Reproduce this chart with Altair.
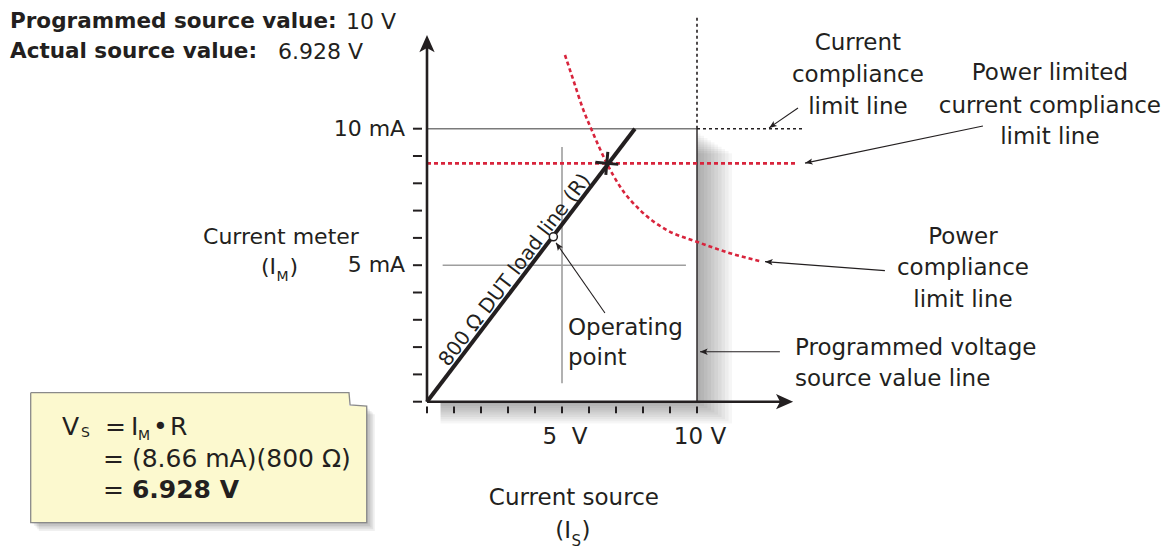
import math
import altair as alt
import pandas as pd

FONT = "DejaVu Sans"
INK = "#231f20"
RED = "#d8243c"

# ---- canvas / scale geometry ----
W, H = 1157, 541
PXV, PXI = 27.0, 27.3          # pixels per volt, pixels per mA
X0 = -419 / PXV
X1 = X0 + W / PXV
Y1 = 393.7 / PXI
Y0 = Y1 - H / PXI
XS = alt.Scale(domain=[X0, X1], nice=False, zero=False)
YS = alt.Scale(domain=[Y0, Y1], nice=False, zero=False)

# ---- data ----
tick_v = list(range(0, 11))
tick_i = list(range(0, 11))
x_label_pos = [5, 10]
x_labels = ["5\u00a0\u00a0V", "10 V"]
y_label_pos = [5, 10]
y_labels = ["5 mA", "10 mA"]

programmed_v = 10.0
compliance_i = 10.0
limited_i = 8.73
load_v = [0.0, 7.7]
load_i = [0.0, 10.0]
power_v = [5.11, 5.42, 5.79, 6.10, 6.66, 7.15, 7.89, 8.88, 9.99, 11.22, 12.40]
power_i = [12.70, 11.78, 10.69, 9.95, 8.73, 7.88, 7.02, 6.29, 5.86, 5.44, 5.13]
op_v, op_i = 6.66, 8.73
pt_v, pt_i = 4.68, 6.04

# leader arrows: start (v, i) -> tip (v, i)
leaders = [
    (13.74, 10.76, 12.67, 10.03),
    (20.59, 10.10, 14.00, 8.74),
    (16.96, 4.80, 12.52, 5.13),
    (13.07, 1.83, 10.11, 1.83),
    (6.59, 3.25, 4.78, 5.82),
]

right_labels = [
    (15.96, 13.15, "Current"), (15.96, 11.97, "compliance"), (15.96, 10.78, "limit line"),
    (23.07, 12.05, "Power limited"), (23.07, 10.83, "current compliance"), (23.07, 9.71, "limit line"),
    (19.85, 6.03, "Power"), (19.85, 4.90, "compliance"), (19.85, 3.73, "limit line"),
]
left_labels = [
    (13.63, 1.97, "Programmed voltage"), (13.63, 0.83, "source value line"),
    (5.22, 2.70, "Operating"), (5.22, 1.60, "point"),
]

box_v = [-14.678, -2.889, -2.233]
box_i = [0.330, -0.158, -4.432]


def X(f="x"):
    return alt.X(f"{f}:Q", scale=XS, axis=None)


def Y(f="y"):
    return alt.Y(f"{f}:Q", scale=YS, axis=None)


def segs(rows, **kw):
    df = pd.DataFrame(rows, columns=["x", "y", "x2", "y2"])
    return alt.Chart(df).mark_rule(**kw).encode(x=X(), y=Y(), x2="x2:Q", y2="y2:Q")


def rects(rows, **kw):
    df = pd.DataFrame(rows, columns=["x", "x2", "y", "y2"])
    return alt.Chart(df).mark_rect(**kw).encode(x=X(), x2="x2:Q", y=Y(), y2="y2:Q")


def texts(rows, size=22, align="left", weight="normal", **kw):
    df = pd.DataFrame(rows, columns=["x", "y", "t"])
    return alt.Chart(df).mark_text(
        font=FONT, fontSize=size, align=align, baseline="middle",
        fontWeight=weight, color=INK, **kw
    ).encode(x=X(), y=Y(), text="t:N")


def points(rows, **kw):
    df = pd.DataFrame(rows, columns=["x", "y", "a"])
    return alt.Chart(df).mark_point(**kw).encode(
        x=X(), y=Y(), angle=alt.Angle("a:Q", scale=None))


layers = []

# drop shadow of the plot box
layers.append(rects([(0.5, 10 + 0.13 * k, -0.08 * k, 9.9 - 0.08 * k) for k in range(1, 11)],
                    color="#000000", opacity=0.034))
# drop shadow of the formula note
layers.append(rects([(box_v[0] + 0.06 * k, box_v[2] + 0.06 * k, box_i[2] - 0.06 * k, box_i[1] - 0.06 * k)
                     for k in range(1, 6)], color="#000000", opacity=0.06))
# white plot box
layers.append(rects([(0, programmed_v, 0, compliance_i)], color="#ffffff"))
# formula note
layers.append(rects([(box_v[0], box_v[1], box_i[2], box_i[0]),
                     (box_v[1], box_v[2], box_i[2], box_i[1])], color="#fcf9cf"))
border = pd.DataFrame({
    "x": [box_v[0], box_v[1], box_v[1] + 0.04, box_v[2], box_v[2], box_v[0], box_v[0]],
    "y": [box_i[0], box_i[0], box_i[1] + 0.04, box_i[1], box_i[2], box_i[2], box_i[0]],
    "o": list(range(7)),
})
layers.append(alt.Chart(border).mark_line(color="#8a8a8a", strokeWidth=1.3).encode(
    x=X(), y=Y(), order="o:Q"))

# gray lines
layers.append(segs([(0, compliance_i, programmed_v, compliance_i)], color="#7a7a7a", strokeWidth=1.6))
layers.append(segs([(5, 0.68, 5, 9.33), (0.58, 5, 9.59, 5)], color="#9e9e9e", strokeWidth=1.6))
# programmed voltage line
layers.append(segs([(programmed_v, 0, programmed_v, compliance_i)], color=INK, strokeWidth=1.4))
# dotted current compliance limit
layers.append(segs([(programmed_v, compliance_i, 14.0, compliance_i),
                    (programmed_v, compliance_i, programmed_v, 14.1)],
                   color=INK, strokeWidth=1.6, strokeDash=[3, 3]))
# red limits
layers.append(segs([(0, limited_i, 13.74, limited_i)], color=RED, strokeWidth=2.6, strokeDash=[4, 3]))
curve = pd.DataFrame({"x": power_v, "y": power_i, "o": list(range(len(power_v)))})
layers.append(alt.Chart(curve).mark_line(color=RED, strokeWidth=2.6, strokeDash=[4, 3],
                                         interpolate="monotone").encode(x=X(), y=Y(), order="o:Q"))
# load line
layers.append(segs([(load_v[0], load_i[0], load_v[1], load_i[1])], color=INK, strokeWidth=4))
# operating cross and open point
layers.append(points([(op_v, op_i, 5)], shape="M-1,0L1,0M0,-1L0,1", filled=False,
                     stroke=INK, strokeWidth=3, size=529, opacity=1))
layers.append(alt.Chart(pd.DataFrame({"x": [pt_v], "y": [pt_i]})).mark_point(
    shape="circle", filled=True, fill="#ffffff", stroke=INK, strokeWidth=1.5, size=64, opacity=1
).encode(x=X(), y=Y()))

# axes
layers.append(segs([(0, 0, 0, 13.0), (0, 0, 13.2, 0)], color=INK, strokeWidth=2.6))
layers.append(segs([(-0.52, t, -0.185, t) for t in tick_i], color=INK, strokeWidth=2))
layers.append(segs([(t, -0.18, t, -0.425) for t in tick_v], color=INK, strokeWidth=2))
AX_HEAD = "M0,0L0.85,1.9L0,1.45L-0.85,1.9Z"
layers.append(points([(0, 13.43, 0), (13.56, 0, 90)], shape=AX_HEAD, filled=True,
                     color=INK, size=324, opacity=1, strokeWidth=0))

# leaders
layers.append(segs([(a, b, c, d) for a, b, c, d in leaders], color=INK, strokeWidth=1.1))
heads = [(c, d, math.degrees(math.atan2((c - a) * PXV, (d - b) * PXI)) % 360)
         for a, b, c, d in leaders]
layers.append(points(heads, shape="M0,0L-0.45,1.1L0,0.85L0.45,1.1Z", filled=True,
                     color=INK, size=196, opacity=1, strokeWidth=0))

# texts
layers.append(texts([(-15.444, 13.92, "Programmed source value:"),
                     (-15.444, 12.80, "Actual source value:")], size=21.5, weight="bold"))
layers.append(texts([(-3.0, 13.92, "10 V"), (-5.52, 12.80, "6.928 V")], size=22))
layers.append(texts(right_labels, size=23, align="center"))
layers.append(texts(left_labels, size=23, align="left"))
layers.append(texts([(-0.81, p, s) for p, s in zip(y_label_pos, y_labels)], size=22, align="right"))
layers.append(texts([(p + 0.11, -1.282, s) for p, s in zip(x_label_pos, x_labels)], size=23, align="center"))
layers.append(texts([(-5.41, 6.03, "Current meter")], size=22, align="center"))
layers.append(texts([(-5.593, 4.934, "(I")], size=22, align="right"))
layers.append(texts([(-5.574, 4.568, "M")], size=14, align="left"))
layers.append(texts([(-5.093, 4.934, ")")], size=22, align="left"))
layers.append(texts([(5.44, -3.53, "Current source")], size=23, align="center"))
layers.append(texts([(5.333, -4.736, "(I")], size=23, align="right"))
layers.append(texts([(5.352, -5.103, "S")], size=15, align="left"))
layers.append(texts([(5.722, -4.736, ")")], size=23, align="left"))

load_angle = 360 - math.degrees(math.atan2((load_i[1] - load_i[0]) * PXI, (load_v[1] - load_v[0]) * PXV))
layers.append(texts([(3.26, 4.82, "800 Ω DUT load line (R)")], size=20, align="center", angle=load_angle))

# formula
layers.append(texts([(-13.519, -0.927, "V"), (-11.926, -0.927, "="), (-10.963, -0.927, "I"),
                     (-10.148, -0.927, "•"), (-9.519, -0.927, "R"),
                     (-12.0, -2.10, "= (8.66 mA)(800 Ω)"), (-12.0, -3.22, "=")], size=25))
layers.append(texts([(-12.815, -1.15, "S"), (-10.70, -1.26, "M")], size=14))
layers.append(texts([(-10.93, -3.22, "6.928 V")], size=25, weight="bold"))

chart = alt.layer(*layers).properties(
    width=W, height=H, padding=0, autosize="none", background="#ffffff"
).configure_view(stroke=None)

chart.save("out.html", embed_options={"renderer": "svg", "actions": False})
